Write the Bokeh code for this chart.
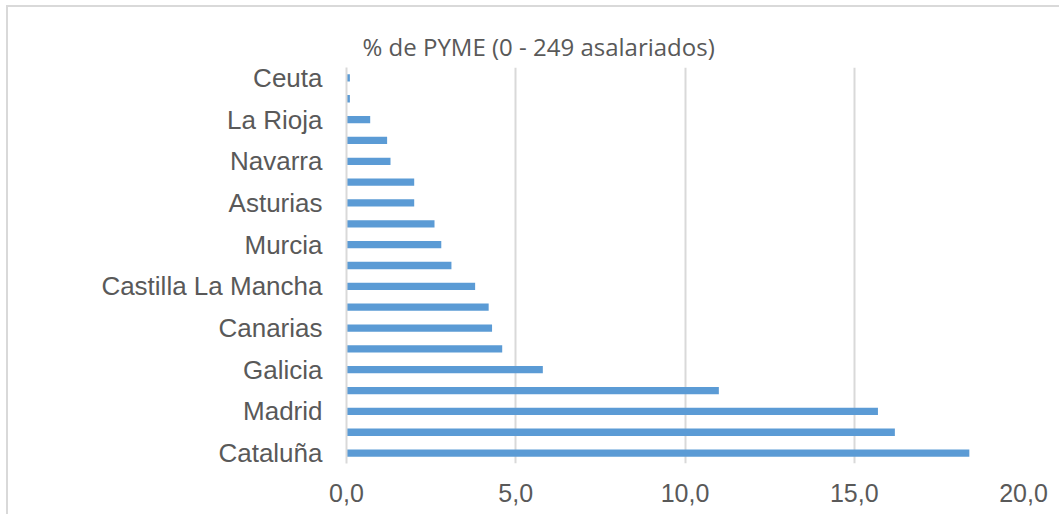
from bokeh.plotting import figure
from bokeh.models import FixedTicker, CustomJSTickFormatter, Title
from bokeh.embed import file_html
from bokeh.resources import INLINE

# Data (bottom to top)
regions = ["Cataluña", "Andalucía", "Madrid", "C. Valenciana", "Galicia",
           "País Vasco", "Canarias", "Castilla y León", "Castilla La Mancha",
           "Aragón", "Murcia", "Baleares", "Asturias", "Extremadura",
           "Navarra", "Cantabria", "La Rioja", "Melilla", "Ceuta"]
pct_pyme = [18.4, 16.2, 15.7, 11.0, 5.8, 4.6, 4.3, 4.2, 3.8, 3.1, 2.8, 2.6,
            2.0, 2.0, 1.3, 1.2, 0.7, 0.1, 0.1]
shown_labels = ["Cataluña", "Madrid", "Galicia", "Canarias", "Castilla La Mancha",
                "Murcia", "Asturias", "Navarra", "La Rioja", "Ceuta"]
x_ticks = [0, 5, 10, 15, 20]
title_text = "% de PYME (0 - 249 asalariados)"

positions = list(range(len(regions)))
label_pos = [regions.index(r) for r in shown_labels]

p = figure(width=1053, height=509, output_backend="svg", toolbar_location=None,
           x_range=(0, 20), y_range=(-0.5, len(regions) - 0.5),
           min_border_left=338, min_border_right=38, min_border_top=60,
           min_border_bottom=53,
           styles={"border-top": "2px solid #d9d9d9", "border-left": "2px solid #d9d9d9",
                   "box-sizing": "border-box", "margin-left": "6px", "margin-top": "5px"})

p.hbar(y=positions, right=pct_pyme, height=0.35, color="#5b9bd5", line_color=None)

p.add_layout(Title(text=title_text, align="left", offset=16,
                   text_font="Open Sans", text_font_size="24px",
                   text_font_style="normal", text_color="#595959"), "above")

p.outline_line_color = None
p.background_fill_color = "white"

# x axis
p.xaxis.ticker = FixedTicker(ticks=x_ticks)
p.xaxis.formatter = CustomJSTickFormatter(code="return tick.toFixed(1).replace('.', ',');")
p.xaxis.axis_line_color = None
p.xaxis.major_tick_line_color = None
p.xaxis.minor_tick_line_color = None
p.xaxis.major_label_text_font = "Liberation Sans"
p.xaxis.major_label_text_font_size = "25px"
p.xaxis.major_label_text_color = "#595959"
p.xaxis.major_label_standoff = 14

# y axis
p.yaxis.ticker = FixedTicker(ticks=label_pos)
p.yaxis.major_label_overrides = {i: regions[i] for i in label_pos}
p.yaxis.axis_line_color = "#d9d9d9"
p.yaxis.axis_line_width = 2
p.yaxis.major_tick_line_color = None
p.yaxis.minor_tick_line_color = None
p.yaxis.major_label_text_font = "Liberation Sans"
p.yaxis.major_label_text_font_size = "26px"
p.yaxis.major_label_text_color = "#595959"
p.yaxis.major_label_standoff = 18

p.xgrid.grid_line_color = "#d9d9d9"
p.xgrid.grid_line_width = 2
p.ygrid.grid_line_color = None

open("out.html", "w").write(file_html(p, INLINE))
